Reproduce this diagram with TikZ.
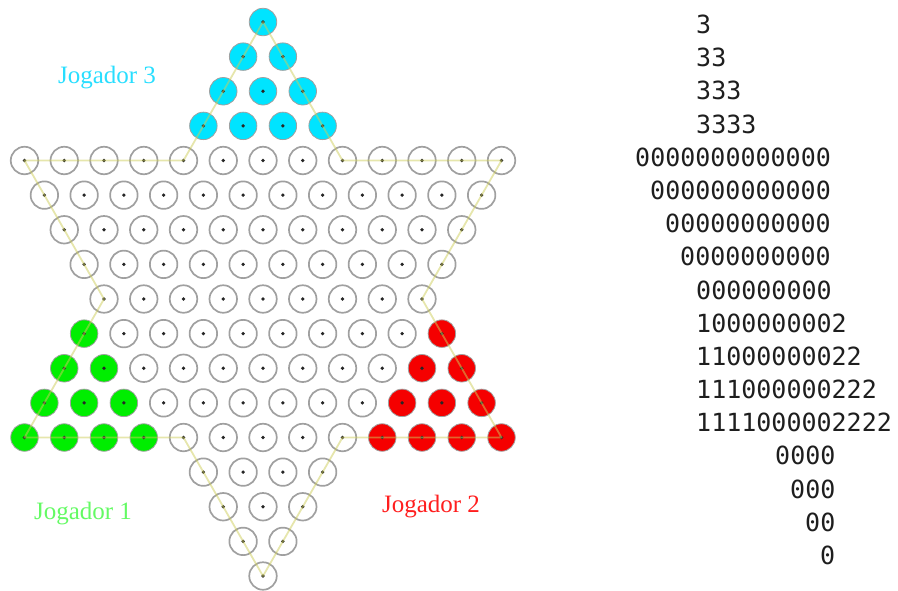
\documentclass[tikz,border=0pt]{standalone}
\usepackage{fontspec}
\setmainfont{Liberation Serif}
\newfontfamily\monofnt{DejaVu Sans Mono}
\definecolor{holegray}{RGB}{160,160,160}
\definecolor{pcyan}{RGB}{0,228,255}
\definecolor{pgreen}{RGB}{0,238,0}
\definecolor{pred}{RGB}{245,0,0}
\definecolor{tcyan}{RGB}{40,222,255}
\definecolor{tgreen}{RGB}{100,250,100}
\definecolor{tred}{RGB}{255,30,30}
\definecolor{starline}{RGB}{205,205,90}
\definecolor{digit}{RGB}{30,30,30}
\begin{document}
\begin{tikzpicture}[x=1pt,y=-1pt,
  peg/.style={circle,inner sep=0pt,minimum size=27.5pt},
  starpath/.style={draw=starline,line width=1.8pt,opacity=0.5,line join=round},
  label/.style={font=\fontsize{25}{30}\selectfont,inner sep=0pt},
  mono/.style={font=\monofnt\fontsize{25}{30}\selectfont,text=digit,inner sep=0pt,anchor=base west}]
\useasboundingbox (0,0) rectangle (898,590);
% board
\foreach \r/\n in {0/1,1/2,2/3,3/4,4/13,5/12,6/11,7/10,8/9,9/10,10/11,11/12,12/13,13/4,14/3,15/2,16/1}{
  \foreach \i in {1,...,\n}{
    \pgfmathsetmacro\xx{263+(\i-(\n+1)/2)*39.75}
    \pgfmathsetmacro\yy{22+\r*34.625}
    \def\fc{none}\def\lw{1.7pt}
    \ifnum\r<4 \def\fc{pcyan}\def\lw{0.8pt}\fi
    \ifnum\r>8 \ifnum\r<13
      \pgfmathtruncatemacro\k{\r-8}
      \ifnum\i<\numexpr\k+1\relax \def\fc{pgreen}\def\lw{0.8pt}\fi
      \ifnum\i>\numexpr\n-\k\relax \def\fc{pred}\def\lw{0.8pt}\fi
    \fi\fi
    \node[peg,fill=\fc,draw=holegray,line width=\lw] (h-\r-\i) at (\xx,\yy) {};
    \fill[black!85] (h-\r-\i.center) circle (1.8);
  }
}
% star outline
\draw[starpath] (h-0-1.center) -- (h-4-5.center) -- (h-4-1.center) -- (h-8-1.center)
  -- (h-12-1.center) -- (h-12-5.center) -- (h-16-1.center) -- (h-12-9.center)
  -- (h-12-13.center) -- (h-8-9.center) -- (h-4-13.center) -- (h-4-9.center) -- cycle;
% player labels
\node[label,text=tcyan] (j3) at (107,78) {Jogador 3};
\node[label,text=tgreen] (j1) at (83,514) {Jogador 1};
\node[label,text=tred] (j2) at (431,507) {Jogador 2};
% matrix text
\foreach \k/\x/\s in {0/696/3,1/696/33,2/696/333,3/696/3333,
  4/635/0000000000000,5/650/000000000000,6/665/00000000000,7/680/0000000000,8/696/000000000,
  9/696/1000000002,10/696/11000000022,11/696/111000000222,12/696/1111000002222,
  13/775/0000,14/790/000,15/805/00,16/820/0}{
  \node[mono] (t-\k) at (\x,{33.5+\k*33.19}) {\s};
}
\end{tikzpicture}
\end{document}
